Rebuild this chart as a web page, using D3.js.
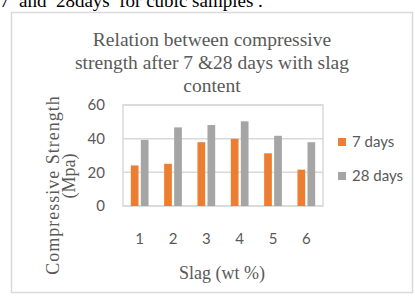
<!DOCTYPE html>
<meta charset="utf-8">
<head>
  <meta charset="UTF-8" />
  <title>Compressive strength</title>
  <script src="https://d3js.org/d3.v7.min.js"></script>
</head>
<style>
  body { margin: 0; background: #fff; }
  svg { display: block; }
</style>
<div id="my_dataviz"></div>
<script>
  // data
  var categories = ["1", "2", "3", "4", "5", "6"]
  var series = ["7 days", "28 days"]
  var days7 = [24.1, 25.1, 37.9, 39.9, 31.3, 21.6]
  var days28 = [39.3, 46.7, 48.1, 50.3, 41.7, 37.9]
  var yTicks = [0, 20, 40, 60]
  var colors = {"7 days": "#ed7d31", "28 days": "#a5a5a5"}

  var width = 415, height = 296
  var plot = {left: 123, right: 323, top: 105, bottom: 206}

  var svg = d3.select("#my_dataviz")
    .append("svg")
      .attr("width", width)
      .attr("height", height)

  // sentence of the page above the chart (cut at the top, as in the scan)
  svg.append("text")
    .attr("x", 0)
    .attr("y", 7)
    .style("font-family", "'Liberation Serif', serif")
    .style("font-size", "19px")
    .style("white-space", "pre")
    .attr("fill", "#000")
    .text("7  and  28days  for cubic samples .")

  // chart box
  svg.append("rect")
    .attr("x", 11.5).attr("y", 12.5)
    .attr("width", 401).attr("height", 280)
    .attr("fill", "#fff")
    .attr("stroke", "#d9d9d9")
    .attr("stroke-width", 1.5)

  // title
  var titleLines = ["Relation between compressive", "strength after 7 &28 days with slag", "content"]
  svg.append("g").selectAll("text")
    .data(titleLines)
    .join("text")
      .attr("x", 212)
      .attr("y", (d, i) => 46 + i * 23)
      .attr("text-anchor", "middle")
      .style("font-family", "'Liberation Serif', serif")
      .style("font-size", "19.5px")
      .attr("fill", "#595959")
      .text(d => d)

  var x0 = d3.scaleBand()
    .domain(categories)
    .range([plot.left, plot.right])

  var x1 = d3.scaleBand()
    .domain(series)
    .range([0, x0.bandwidth()])
    .paddingInner(0.23)
    .paddingOuter(0.78)

  var y = d3.scaleLinear()
    .domain([0, 60])
    .range([plot.bottom, plot.top])

  // gridlines
  svg.append("g").selectAll("line")
    .data(yTicks)
    .join("line")
      .attr("x1", plot.left).attr("x2", plot.right)
      .attr("y1", d => y(d)).attr("y2", d => y(d))
      .attr("stroke", "#d9d9d9")
      .attr("stroke-width", 1.5)

  // plot area border
  svg.append("rect")
    .attr("x", plot.left).attr("y", plot.top)
    .attr("width", plot.right - plot.left)
    .attr("height", plot.bottom - plot.top)
    .attr("fill", "none")
    .attr("stroke", "#d9d9d9")
    .attr("stroke-width", 1.5)

  var rows = categories.map((c, i) => ({cat: c, values: [
    {key: "7 days", value: days7[i]},
    {key: "28 days", value: days28[i]}
  ]}))

  svg.append("g").selectAll("g")
    .data(rows)
    .join("g")
      .attr("transform", d => "translate(" + x0(d.cat) + ",0)")
    .selectAll("rect")
    .data(d => d.values)
    .join("rect")
      .attr("x", d => x1(d.key))
      .attr("y", d => y(d.value))
      .attr("width", x1.bandwidth())
      .attr("height", d => y(0) - y(d.value))
      .attr("fill", d => colors[d.key])

  // axes
  var xAxis = svg.append("g")
    .attr("transform", "translate(0," + (plot.bottom + 27) + ")")
    .call(d3.axisBottom(x0).tickSize(0).tickPadding(0))
  var yAxis = svg.append("g")
    .attr("transform", "translate(" + (plot.left - 18) + ",0)")
    .call(d3.axisLeft(y).tickValues(yTicks).tickSize(0).tickPadding(0))

  ;[xAxis, yAxis].forEach(a => {
    a.select(".domain").remove()
    a.selectAll("text")
      .style("font-family", "Lato, sans-serif")
      .style("font-size", "15px")
      .attr("fill", "#595959")
  })

  // axis titles
  svg.append("text")
    .attr("x", 222)
    .attr("y", 279)
    .attr("text-anchor", "middle")
    .style("font-family", "'Liberation Serif', serif")
    .style("font-size", "18px")
    .attr("fill", "#595959")
    .text("Slag (wt %)")

  svg.append("text")
    .attr("transform", "translate(59,185) rotate(-90)")
    .attr("text-anchor", "middle")
    .style("font-family", "'Liberation Serif', serif")
    .style("font-size", "18px")
    .style("letter-spacing", "1px")
    .attr("fill", "#595959")
    .text("Compressive Strength")

  svg.append("text")
    .attr("transform", "translate(75,176) rotate(-90)")
    .attr("text-anchor", "middle")
    .style("font-family", "'Liberation Serif', serif")
    .style("font-size", "18px")
    .attr("fill", "#595959")
    .text("(Mpa)")

  // legend
  var legend = svg.append("g").selectAll("g")
    .data(series)
    .join("g")
      .attr("transform", (d, i) => "translate(338," + (138 + i * 34) + ")")
  legend.append("rect")
    .attr("width", 8).attr("height", 8)
    .attr("fill", d => colors[d])
  legend.append("text")
    .attr("x", 14)
    .attr("y", 4)
    .attr("dy", "0.35em")
    .style("font-family", "Lato, sans-serif")
    .style("font-size", "15px")
    .attr("fill", "#595959")
    .text(d => d)
</script>
